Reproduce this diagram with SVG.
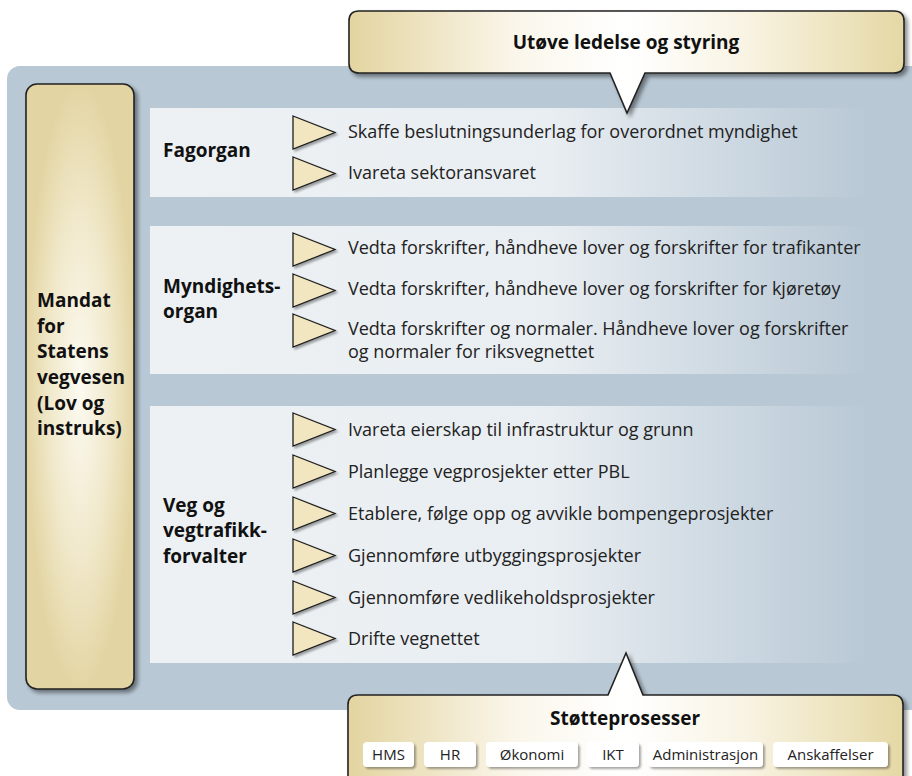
<svg xmlns="http://www.w3.org/2000/svg" xmlns:xlink="http://www.w3.org/1999/xlink" width="912" height="776" viewBox="0 0 912 776">
<style>
.lbl{font-family:"Open Sans","Liberation Sans",sans-serif;font-size:18px;fill:#222}
.bold{font-family:"Open Sans","Liberation Sans",sans-serif;font-size:19px;font-weight:bold;fill:#111}
.btn{font-family:"Open Sans","Liberation Sans",sans-serif;font-size:15px;fill:#222;text-anchor:middle}
.tri{fill:#f2e6c0;stroke:#1e1e1e;stroke-width:1.3;stroke-linejoin:miter}
.callout{fill:url(#calloutGrad);stroke:#222;stroke-width:1.6}
.row{fill:url(#rowGrad)}
.chip{fill:#fff}
</style>
<defs>
<filter id="sh" x="-10%" y="-10%" width="130%" height="130%">
<feGaussianBlur in="SourceAlpha" stdDeviation="2.2"/>
<feOffset dx="3" dy="3" result="b"/>
<feComponentTransfer><feFuncA type="linear" slope="0.45"/></feComponentTransfer>
<feMerge><feMergeNode/><feMergeNode in="SourceGraphic"/></feMerge>
</filter>
<filter id="shs" x="-20%" y="-20%" width="150%" height="150%">
<feGaussianBlur in="SourceAlpha" stdDeviation="1.3"/>
<feOffset dx="2" dy="2" result="b"/>
<feComponentTransfer><feFuncA type="linear" slope="0.35"/></feComponentTransfer>
<feMerge><feMergeNode/><feMergeNode in="SourceGraphic"/></feMerge>
</filter>
<linearGradient id="calloutGrad" gradientUnits="userSpaceOnUse" x1="348" y1="0" x2="904" y2="0">
<stop offset="0" stop-color="#e3d4a0"/>
<stop offset="0.3" stop-color="#faf6ea"/>
<stop offset="0.5" stop-color="#ffffff"/>
<stop offset="0.72" stop-color="#f8f3e2"/>
<stop offset="1" stop-color="#e5d8a5"/>
</linearGradient>
<linearGradient id="rowGrad" gradientUnits="userSpaceOnUse" x1="150" y1="0" x2="870" y2="0">
<stop offset="0" stop-color="#edf1f4"/>
<stop offset="0.55" stop-color="#e9eef2"/>
<stop offset="1" stop-color="#b8c8d5"/>
</linearGradient>
<radialGradient id="mandatGrad" cx="0.5" cy="0.5" r="0.5">
<stop offset="0" stop-color="#fcfaf1"/>
<stop offset="0.55" stop-color="#f1e9cc"/>
<stop offset="1" stop-color="#e3d5a3"/>
</radialGradient>
<path id="tri" d="M0,0 L42,16.5 L0,33 Z"/>
</defs>

<g id="background">
<rect x="7" y="66" width="940" height="644" rx="13" fill="#b8c8d5"/>
</g>

<g id="fagorgan">
<rect class="row" x="150" y="108" width="720" height="89"/>
<text class="bold" x="163" y="157">Fagorgan</text>
<use href="#tri" class="tri" x="293" y="116" filter="url(#shs)"/>
<text class="lbl" x="348" y="138">Skaffe beslutningsunderlag for overordnet myndighet</text>
<use href="#tri" class="tri" x="293" y="157" filter="url(#shs)"/>
<text class="lbl" x="348" y="179">Ivareta sektoransvaret</text>
</g>

<g id="myndighetsorgan">
<rect class="row" x="150" y="226" width="720" height="148"/>
<text class="bold" x="163" y="293">Myndighets-</text>
<text class="bold" x="163" y="318">organ</text>
<use href="#tri" class="tri" x="293" y="233" filter="url(#shs)"/>
<text class="lbl" x="348" y="254">Vedta forskrifter, håndheve lover og forskrifter for trafikanter</text>
<use href="#tri" class="tri" x="293" y="274" filter="url(#shs)"/>
<text class="lbl" x="348" y="295">Vedta forskrifter, håndheve lover og forskrifter for kjøretøy</text>
<use href="#tri" class="tri" x="293" y="314" filter="url(#shs)"/>
<text class="lbl" x="348" y="335">Vedta forskrifter og normaler. Håndheve lover og forskrifter</text>
<text class="lbl" x="348" y="358">og normaler for riksvegnettet</text>
</g>

<g id="vegforvalter">
<rect class="row" x="150" y="406" width="720" height="257"/>
<text class="bold" x="163" y="512">Veg og</text>
<text class="bold" x="163" y="537">vegtrafikk-</text>
<text class="bold" x="163" y="563">forvalter</text>
<use href="#tri" class="tri" x="293" y="413" filter="url(#shs)"/>
<text class="lbl" x="348" y="436">Ivareta eierskap til infrastruktur og grunn</text>
<use href="#tri" class="tri" x="293" y="455" filter="url(#shs)"/>
<text class="lbl" x="348" y="478">Planlegge vegprosjekter etter PBL</text>
<use href="#tri" class="tri" x="293" y="497" filter="url(#shs)"/>
<text class="lbl" x="348" y="520">Etablere, følge opp og avvikle bompengeprosjekter</text>
<use href="#tri" class="tri" x="293" y="539" filter="url(#shs)"/>
<text class="lbl" x="348" y="562">Gjennomføre utbyggingsprosjekter</text>
<use href="#tri" class="tri" x="293" y="581" filter="url(#shs)"/>
<text class="lbl" x="348" y="604">Gjennomføre vedlikeholdsprosjekter</text>
<use href="#tri" class="tri" x="293" y="622" filter="url(#shs)"/>
<text class="lbl" x="348" y="645">Drifte vegnettet</text>
</g>

<g id="mandat">
<rect x="26" y="84" width="108" height="605" rx="11" fill="url(#mandatGrad)" stroke="#222" stroke-width="1.6" filter="url(#sh)"/>
<text class="bold" x="37" y="307">Mandat</text>
<text class="bold" x="37" y="333">for</text>
<text class="bold" x="37" y="358">Statens</text>
<text class="bold" x="37" y="384">vegvesen</text>
<text class="bold" x="37" y="410">(Lov og</text>
<text class="bold" x="37" y="435">instruks)</text>
</g>

<g id="ledelse">
<path class="callout" filter="url(#sh)" d="M359,11 H894 Q904,11 904,21 V63 Q904,73 894,73 H645 L627,113 L610,73 H359 Q349,73 349,63 V21 Q349,11 359,11 Z"/>
<text class="bold" x="626" y="49" text-anchor="middle">Utøve ledelse og styring</text>
</g>

<g id="stotteprosesser">
<path class="callout" filter="url(#sh)" d="M358,695 H608 L626,653 L643,695 H893 Q903,695 903,705 V800 H348 V705 Q348,695 358,695 Z"/>
<text class="bold" x="625" y="725" text-anchor="middle">Støtteprosesser</text>
<g id="chip-hms"><rect class="chip" x="363" y="742" width="51" height="25" rx="4" filter="url(#shs)"/><text class="btn" x="388.5" y="760">HMS</text></g>
<g id="chip-hr"><rect class="chip" x="424" y="742" width="52" height="25" rx="4" filter="url(#shs)"/><text class="btn" x="450" y="760">HR</text></g>
<g id="chip-okonomi"><rect class="chip" x="486" y="742" width="92" height="25" rx="4" filter="url(#shs)"/><text class="btn" x="532" y="760">Økonomi</text></g>
<g id="chip-ikt"><rect class="chip" x="587" y="742" width="52" height="25" rx="4" filter="url(#shs)"/><text class="btn" x="613" y="760">IKT</text></g>
<g id="chip-adm"><rect class="chip" x="648" y="742" width="115" height="25" rx="4" filter="url(#shs)"/><text class="btn" x="705.5" y="760">Administrasjon</text></g>
<g id="chip-anskaffelser"><rect class="chip" x="773" y="742" width="115" height="25" rx="4" filter="url(#shs)"/><text class="btn" x="830.5" y="760">Anskaffelser</text></g>
</g>

<g id="connectors"></g>
</svg>
